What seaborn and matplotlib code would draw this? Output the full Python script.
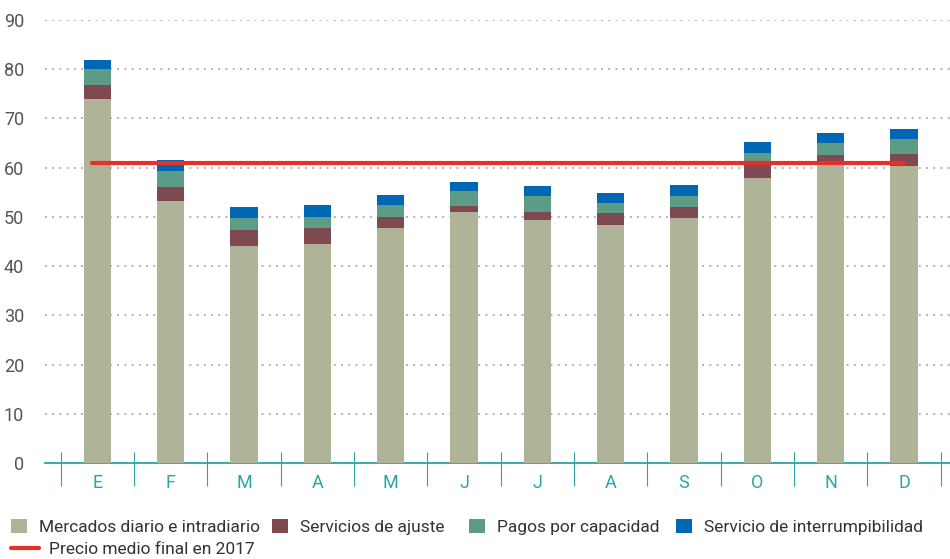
import numpy as np
import pandas as pd
import seaborn as sns
import matplotlib.pyplot as plt
from matplotlib.patches import Patch
from matplotlib.lines import Line2D

# Componentes del precio final (EUR/MWh) por mes, 2017
meses = ["E", "F", "M", "A", "M", "J", "J", "A", "S", "O", "N", "D"]
mercados = [74.0, 53.2, 44.1, 44.4, 47.7, 51.0, 49.4, 48.4, 49.8, 57.9, 60.5, 60.3]
ajuste = [2.8, 2.9, 3.2, 3.3, 2.3, 1.2, 1.6, 2.4, 2.2, 3.1, 2.1, 2.5]
capacidad = [3.2, 3.2, 2.5, 2.3, 2.4, 3.1, 3.2, 2.0, 2.2, 2.0, 2.4, 3.0]
interrump = [1.9, 2.3, 2.2, 2.4, 2.0, 1.8, 2.1, 2.1, 2.3, 2.2, 2.0, 2.1]
precio_medio = 60.9

series = ["Mercados diario e intradiario", "Servicios de ajuste",
          "Pagos por capacidad", "Servicio de interrumpibilidad"]
colores = ["#AFB398", "#7E4950", "#5C9B86", "#0067B4"]
rojo = "#E8302A"
teal = "#2AA5A8"

df = pd.DataFrame({"mes": range(12), "m1": mercados, "m2": ajuste,
                   "m3": capacidad, "m4": interrump})
# stacked: cumulative sums, drawn from the top layer down
df["c1"] = df["m1"]
df["c2"] = df["c1"] + df["m2"]
df["c3"] = df["c2"] + df["m3"]
df["c4"] = df["c3"] + df["m4"]

sns.set_style("white")
plt.rcParams["font.family"] = ["Roboto", "DejaVu Sans"]

fig = plt.figure(figsize=(9.5, 5.59), dpi=100)
ax = fig.add_axes([45 / 950, 1 - 463 / 559, 905 / 950, 443 / 559])

for col, c in zip(["c4", "c3", "c2", "c1"], colores[::-1]):
    sns.barplot(data=df, x="mes", y=col, color=c, width=0.37,
                saturation=1, linewidth=0, ax=ax, zorder=3)

# precio medio final
sns.lineplot(x=[-0.07, 11], y=[precio_medio, precio_medio], color=rojo,
             linewidth=3, ax=ax, zorder=4)

ax.set_xlim(-0.713, 11.628)
ax.set_ylim(0, 90)
ax.set_yticks(range(0, 91, 10))
ax.set_xticks(range(12))
ax.set_xticklabels(meses)
ax.set_xlabel("")
ax.set_ylabel("")

for s in ["top", "right", "left"]:
    ax.spines[s].set_visible(False)
ax.spines["bottom"].set_color(teal)
ax.spines["bottom"].set_linewidth(1.3)

ax.yaxis.grid(True, linestyle=(0, (1, 3)), color="#A8A8A8", linewidth=1.3)
ax.set_axisbelow(True)

ax.tick_params(axis="y", length=0, pad=15, labelsize=13, labelcolor="#555555")
ax.tick_params(axis="x", length=0, pad=8, labelsize=13, labelcolor=teal)

# separadores entre meses
trans = ax.get_xaxis_transform()
ax.vlines(np.arange(-0.5, 12, 1), -23 / 443, 11 / 443, transform=trans,
          color=teal, linewidth=0.8, clip_on=False)

# leyenda: cada entrada en su sitio
legend_x = [4, 265, 462, 669]
for x0, lab, c in zip(legend_x, series, colores):
    leg = fig.legend([Patch(facecolor=c, edgecolor="none")], [lab],
                     loc="center left", bbox_to_anchor=(x0 / 950, 1 - 527 / 559),
                     frameon=False, fontsize=12.5, handlelength=0.9,
                     handleheight=0.9, handletextpad=0.7, borderaxespad=0,
                     labelcolor="#333333")
fig.legend([Line2D([0], [0], color=rojo, linewidth=3)],
           ["Precio medio final en 2017"], loc="center left",
           bbox_to_anchor=(4 / 950, 1 - 549 / 559), frameon=False,
           fontsize=12.5, handlelength=1.6, handletextpad=0.6,
           borderaxespad=0, labelcolor="#333333")

fig.savefig("out.png", dpi=100)
